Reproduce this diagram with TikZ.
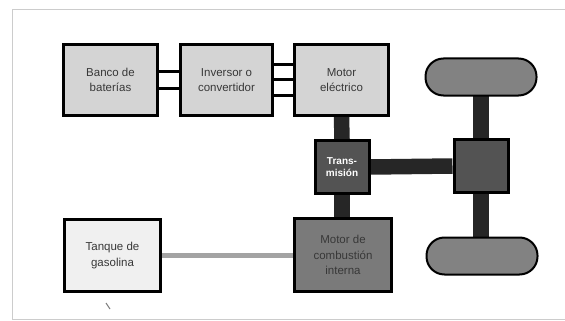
\documentclass[tikz,border=0pt]{standalone}
\usepackage{fontspec}
\setmainfont{Liberation Sans}
\usetikzlibrary{backgrounds}
\definecolor{lightbox}{HTML}{D4D4D4}
\definecolor{darkbox}{HTML}{535353}
\definecolor{midbox}{HTML}{7A7A7A}
\definecolor{wheelgray}{HTML}{828282}
\definecolor{shaft}{HTML}{262626}
\definecolor{txtgray}{HTML}{383838}
\definecolor{frame}{HTML}{CCCCCC}
\definecolor{fuel}{HTML}{A3A3A3}
\tikzset{
  box/.style={draw=black, line width=3pt, inner sep=0pt, align=center, text=txtgray,
    font=\fontsize{11.5}{15.5}\selectfont},
  lightnode/.style={box, fill=lightbox, minimum width=94pt, minimum height=71pt},
  darknode/.style={box, fill=darkbox, minimum width=54pt, minimum height=53pt},
  wheel/.style={draw=black, line width=2pt, fill=wheelgray, rounded corners=18pt,
    minimum width=111pt, minimum height=37pt},
  wire/.style={line width=3pt, draw=black},
  thickshaft/.style={line width=15.5pt, draw=shaft},
  fuelline/.style={line width=5pt, draw=fuel},
  framel/.style={line width=1pt, draw=frame}
}
\begin{document}
\begin{tikzpicture}[x=1pt, y=-1pt]
\useasboundingbox (0,0) rectangle (565,321);
% nodes
\node[lightnode] (bat) at (110.5,80) {Banco de\\baterías};
\node[lightnode, minimum width=92pt] (inv) at (226.5,80) {Inversor o\\convertidor};
\node[lightnode] (mot) at (341.5,80) {Motor\\eléctrico};
\node[darknode, text=white, font=\bfseries\fontsize{10}{12}\selectfont] (tra) at (342,167) {Trans-\\misión};
\node[darknode] (dif) at (481,166) {};
\node[wheel] (w1) at (481,77) {};
\node[wheel] (w2) at (482,256) {};
\node[lightnode, fill=midbox, minimum width=97pt, minimum height=73pt] (com) at (343,255) {Motor de\\combustión\\interna};
\node[lightnode, fill=white!94!black, minimum width=96pt, minimum height=72pt] (tan) at (112.5,255.5) {Tanque de\\gasolina};
% background, frame and connectors
\begin{scope}[on background layer]
\fill[white] (0,0) rectangle (565,321);
\coordinate (f1) at (12,10);
\coordinate (f2) at (565,10);
\coordinate (f3) at (12,319);
\coordinate (f4) at (565,319);
\draw[framel] (f2) -- (f1) -- (f3) -- (f4);
\draw[wire] ([yshift=8.5pt]bat.east) -- ([yshift=8.5pt]inv.west);
\draw[wire] ([yshift=-8.5pt]bat.east) -- ([yshift=-8.5pt]inv.west);
\draw[wire] ([yshift=15.5pt]inv.east) -- ([yshift=15.5pt]mot.west);
\draw[wire] (inv.east) -- (mot.west);
\draw[wire] ([yshift=-15.5pt]inv.east) -- ([yshift=-15.5pt]mot.west);
\draw[thickshaft] (mot.south) -- (tra.north);
\draw[thickshaft] (tra.south) -- (com.north -| tra.south);
\draw[thickshaft] (tra.east) -- (dif.west);
\draw[thickshaft] (w1.center -| dif.north) -- (w2.center -| dif.north);
\draw[fuelline] (tan.east) -- (tan.east -| com.west);
\end{scope}
% stray mark
\coordinate (s1) at (106,303);
\coordinate (s2) at (110,309);
\draw[line width=1pt, draw=gray] (s1) -- (s2);
\end{tikzpicture}
\end{document}
